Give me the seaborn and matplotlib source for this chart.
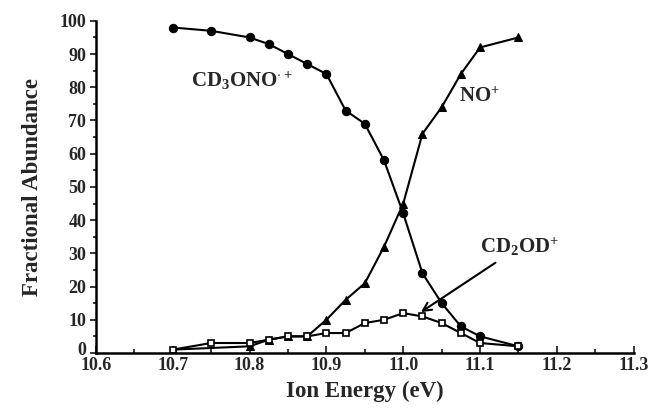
import pandas as pd
import matplotlib
matplotlib.use("Agg")
import matplotlib.pyplot as plt
import matplotlib.transforms as mtransforms
import seaborn as sns

# values
x_parent = [10.70, 10.75, 10.80, 10.825, 10.85, 10.875, 10.90, 10.925, 10.95, 10.975,
            11.00, 11.025, 11.05, 11.075, 11.10, 11.15]
y_parent = [98, 97, 95, 93, 90, 87, 84, 73, 69, 58, 42, 24, 15, 8, 5, 2]

x_no = [10.70, 10.80, 10.825, 10.85, 10.875, 10.90, 10.925, 10.95, 10.975,
        11.00, 11.025, 11.05, 11.075, 11.10, 11.15]
y_no = [1, 2, 4, 5, 5, 10, 16, 21, 32, 45, 66, 74, 84, 92, 95]

x_cd2od = [10.70, 10.75, 10.80, 10.825, 10.85, 10.875, 10.90, 10.925, 10.95, 10.975,
           11.00, 11.025, 11.05, 11.075, 11.10, 11.15]
y_cd2od = [1, 3, 3, 4, 5, 5, 6, 6, 9, 10, 12, 11, 9, 6, 3, 2]

df_parent = pd.DataFrame({"energy": x_parent, "abundance": y_parent})
df_no = pd.DataFrame({"energy": x_no, "abundance": y_no})
df_cd2od = pd.DataFrame({"energy": x_cd2od, "abundance": y_cd2od})

sns.set_style("ticks")
plt.rcParams["font.family"] = ["Liberation Serif", "DejaVu Serif"]
plt.rcParams["font.weight"] = "bold"
plt.rcParams["mathtext.fontset"] = "custom"
plt.rcParams["mathtext.rm"] = "Liberation Serif:bold"
plt.rcParams["mathtext.default"] = "rm"

fig = plt.figure(figsize=(6.48, 4.09), dpi=100)
ax = fig.add_axes([0.148, 0.137, 0.83, 0.812])

sns.lineplot(data=df_parent, x="energy", y="abundance", ax=ax, color="black",
             marker="o", markersize=6, markeredgecolor="black", linewidth=1.5)
sns.lineplot(data=df_no, x="energy", y="abundance", ax=ax, color="black",
             marker="^", markersize=6, markeredgecolor="black", linewidth=1.5)
sns.lineplot(data=df_cd2od, x="energy", y="abundance", ax=ax, color="black",
             marker="s", markersize=5, markerfacecolor="white",
             markeredgecolor="black", markeredgewidth=1.2, linewidth=1.5)

ax.set_xlim(10.6, 11.3)
ax.set_ylim(0, 100)
ax.set_xticks([10.6, 10.7, 10.8, 10.9, 11.0, 11.1, 11.2, 11.3])
ax.set_xticks([10.65, 10.75, 10.85, 10.95, 11.05, 11.15, 11.25], minor=True)
ax.set_yticks(range(0, 101, 10))
ax.set_yticks(range(5, 100, 10), minor=True)
ax.set_xticklabels(["10.6", "10.7", "10.8", "10.9", "11.0", "11.1", "11.2", "11.3"])

ax.tick_params(axis="x", which="both", direction="in", width=1.3)
ax.tick_params(axis="x", which="major", length=5, labelsize=13, pad=3)
ax.tick_params(axis="x", which="minor", length=3)
ax.tick_params(axis="y", which="both", direction="out", width=1.3)
ax.tick_params(axis="y", which="major", length=4, labelsize=13, pad=3)
ax.tick_params(axis="y", which="minor", length=2)

# nudge the "0" up a little so it clears "10.6"
zero_lbl = ax.get_yticklabels()[0]
zero_lbl.set_transform(zero_lbl.get_transform() +
                       mtransforms.ScaledTranslation(0, 3 / 72, fig.dpi_scale_trans))

sns.despine(ax=ax)
for side in ["left", "bottom"]:
    ax.spines[side].set_linewidth(1.8)
    ax.spines[side].set_color("black")

ax.set_xlabel("Ion Energy (eV)", fontsize=16.5, fontweight="bold", labelpad=5)
ax.set_ylabel("Fractional Abundance", fontsize=16.5, fontweight="bold", labelpad=12)

ax.text(10.791, 82, "CD$_3$ONO$^{\\cdot+}$", fontsize=15, fontweight="bold",
        ha="center", va="center")
ax.text(11.072, 77, "NO$^{+}$", fontsize=15, fontweight="bold",
        ha="left", va="center")
ax.annotate("CD$_2$OD$^{+}$", xy=(11.023, 12.3), xytext=(11.100, 32),
            fontsize=15, fontweight="bold", ha="left", va="center",
            arrowprops=dict(arrowstyle="->", color="black", lw=1.5,
                            shrinkA=2, shrinkB=0))

fig.savefig("out.png", dpi=100)
